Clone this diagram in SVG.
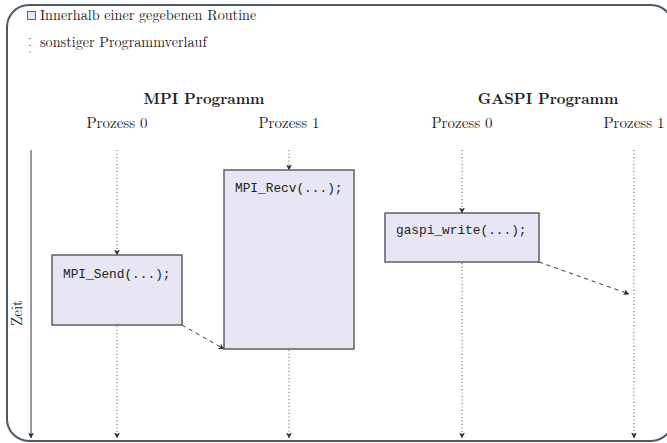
<svg xmlns="http://www.w3.org/2000/svg" width="667" height="443" viewBox="0 0 667 443">
  <style>
    .serif { font-family: "Latin Modern Roman", "Liberation Serif", "DejaVu Serif", serif; fill: #222; }
    .legend { font-size: 14.2px; }
    .proc { font-size: 15px; }
    .title { font-size: 15px; font-weight: bold; }
    .mono { font-family: "Liberation Mono", "DejaVu Sans Mono", monospace; font-size: 12.8px; fill: #222; }
    .box { fill: #e6e6f5; stroke: #555; stroke-width: 1.4; }
    .life { stroke: #555; stroke-width: 1; stroke-dasharray: 1 2.5; fill: none; }
    .msg { stroke: #333; stroke-width: 1; stroke-dasharray: 4 4; fill: none; }
  </style>
  <defs>
    <marker id="tip" viewBox="0 0 6 6" refX="5.5" refY="3" markerWidth="6" markerHeight="6" markerUnits="userSpaceOnUse" orient="auto">
      <path d="M0,0 L6,3 L0,6 L1.5,3 Z" fill="#333"/>
    </marker>
  </defs>

  <rect width="667" height="443" fill="#ffffff"/>

  <!-- outer frame -->
  <rect x="7" y="5" width="666" height="436" rx="22" ry="22" fill="none" stroke="#4a5a66" stroke-width="2"/>

  <!-- legend -->
  <g id="legend">
    <rect x="27.5" y="11.5" width="8" height="8" fill="#e6e6f5" stroke="#666" stroke-width="1"/>
    <text class="serif legend" x="40" y="20">Innerhalb einer gegebenen Routine</text>
    <line x1="30" y1="38" x2="30" y2="58" stroke="#555" stroke-width="1.2" stroke-dasharray="1.2 5.5"/>
    <text class="serif legend" x="40" y="47">sonstiger Programmverlauf</text>
  </g>

  <!-- headings -->
  <g id="headings">
    <text class="serif title" x="204" y="104" text-anchor="middle">MPI Programm</text>
    <text class="serif title" x="548" y="104" text-anchor="middle">GASPI Programm</text>
    <text class="serif proc" x="117" y="128" text-anchor="middle">Prozess 0</text>
    <text class="serif proc" x="289" y="128" text-anchor="middle">Prozess 1</text>
    <text class="serif proc" x="462" y="128" text-anchor="middle">Prozess 0</text>
    <text class="serif proc" x="634" y="128" text-anchor="middle">Prozess 1</text>
  </g>

  <!-- time axis -->
  <g id="time-axis">
    <line x1="31" y1="150" x2="31" y2="438" stroke="#777" stroke-width="1.5" marker-end="url(#tip)"/>
    <text class="serif proc" transform="translate(22,313) rotate(-90)" text-anchor="middle">Zeit</text>
  </g>

  <!-- lifelines and messages -->
  <g id="connectors">
    <line class="life" x1="117" y1="150" x2="117" y2="255" marker-end="url(#tip)"/>
    <line class="life" x1="117" y1="326" x2="117" y2="438" marker-end="url(#tip)"/>
    <line class="life" x1="289" y1="150" x2="289" y2="170" marker-end="url(#tip)"/>
    <line class="life" x1="289" y1="350" x2="289" y2="438" marker-end="url(#tip)"/>
    <line class="life" x1="462" y1="150" x2="462" y2="213" marker-end="url(#tip)"/>
    <line class="life" x1="462" y1="263" x2="462" y2="438" marker-end="url(#tip)"/>
    <line class="life" x1="634" y1="150" x2="634" y2="438" marker-end="url(#tip)"/>
    <line class="msg" x1="182" y1="325" x2="224" y2="349" marker-end="url(#tip)"/>
    <line class="msg" x1="539" y1="262" x2="629" y2="294" marker-end="url(#tip)"/>
  </g>

  <!-- routines -->
  <g id="mpi-send">
    <rect class="box" x="52" y="255" width="130" height="70"/>
    <text class="mono" x="63" y="278">MPI_Send(...);</text>
  </g>
  <g id="mpi-recv">
    <rect class="box" x="224" y="170" width="130" height="179"/>
    <text class="mono" x="235" y="192">MPI_Recv(...);</text>
  </g>
  <g id="gaspi-write">
    <rect class="box" x="385" y="213" width="154" height="49"/>
    <text class="mono" x="396" y="234">gaspi_write(...);</text>
  </g>
</svg>
